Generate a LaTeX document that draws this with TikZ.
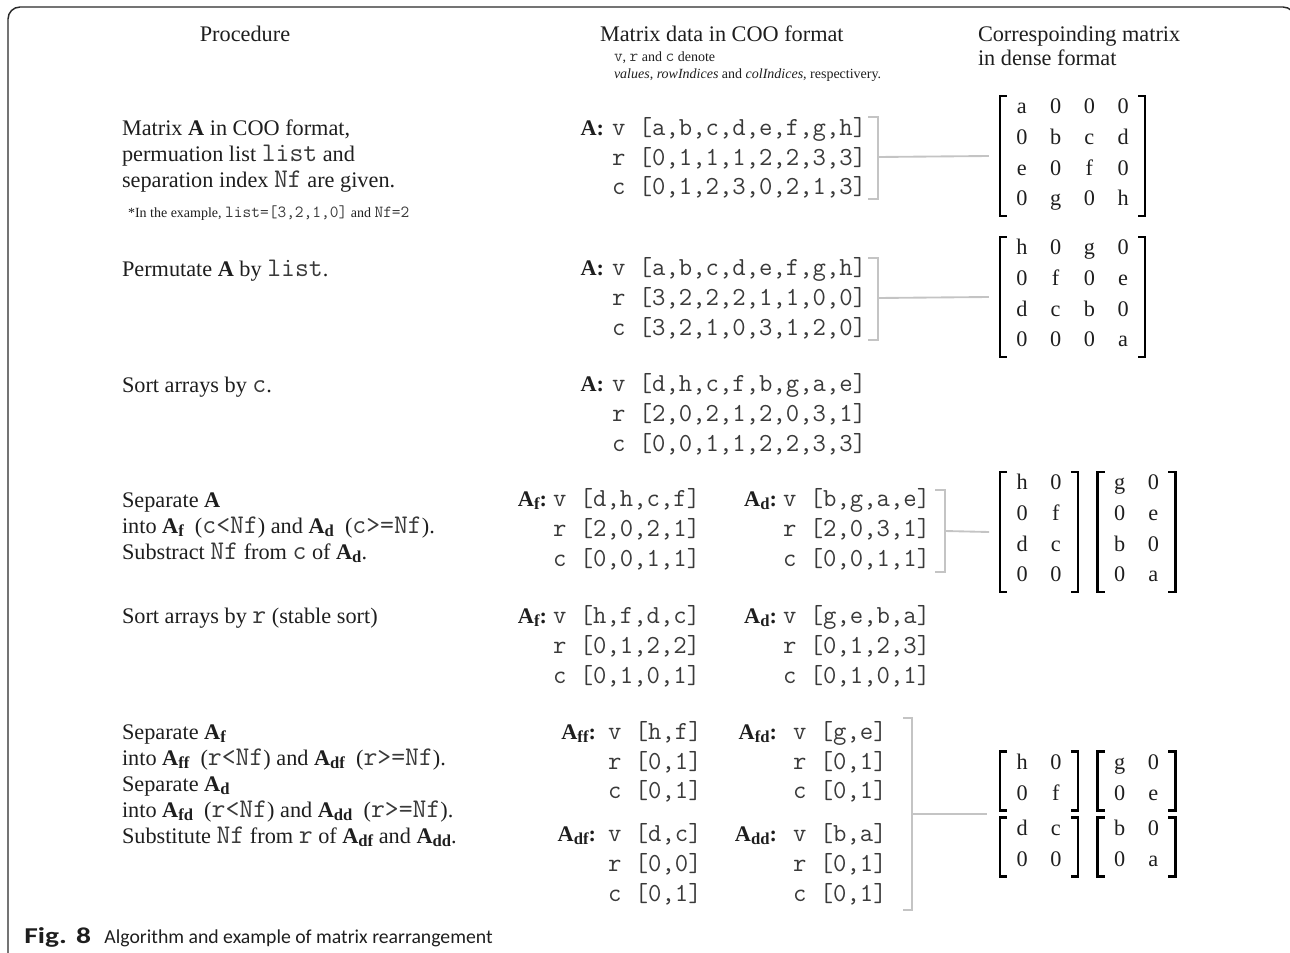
\documentclass[tikz,border=0pt]{standalone}
\usepackage{fontspec}
\setmainfont{Liberation Serif}
\setmonofont{Latin Modern Mono}[Scale=1.21]
\newfontfamily\capfont{Carlito}
\usetikzlibrary{matrix}
\definecolor{ink}{HTML}{1E1E1E}
\definecolor{monoink}{HTML}{3A3A3A}
\definecolor{grayline}{HTML}{C4C4C4}
\definecolor{framecol}{HTML}{2A2A2A}
\newcommand\Am[1]{\textbf{A}\raisebox{-0.35ex}{\fontsize{12.5}{12.5}\selectfont\bfseries #1}}
\newcommand\mt[1]{{\ttfamily\color{monoink}#1}}
\newcommand\mbrackets[1]{%
  \draw[mbr] ([xshift=-0.8pt]#1.north west) -- ([xshift=-6pt]#1.north west) -- ([xshift=-6pt]#1.south west) -- ([xshift=-0.8pt]#1.south west);
  \draw[mbr] ([xshift=0.8pt]#1.north east) -- ([xshift=6pt]#1.north east) -- ([xshift=6pt]#1.south east) -- ([xshift=0.8pt]#1.south east);}
\tikzset{
  ptxt/.style={anchor=base west, inner sep=0, outer sep=0, text=ink, font=\fontsize{16.7}{19.5}\selectfont},
  small/.style={anchor=base west, inner sep=0, outer sep=0, text=ink, font=\fontsize{10.5}{12}\selectfont},
  coo/.style={anchor=base west, inner sep=0, outer sep=0, text=monoink, font=\fontsize{16.1}{19}\selectfont\ttfamily},
  lbl/.style={anchor=base east, inner sep=0, outer sep=0, text=ink, font=\fontsize{16.7}{19.5}\selectfont\bfseries},
  gbr/.style={draw=grayline, line width=1.4pt},
  mbr/.style={draw=black, line width=1.8pt, line join=miter},
  dmat/.style={matrix of nodes, inner sep=0, outer sep=0, column sep=4.3pt, row sep=2pt,
    nodes={anchor=center, minimum width=21pt, minimum height=21pt, inner sep=0, text height=8.5pt, text depth=3pt, text=ink, font=\fontsize{16.7}{19.5}\selectfont}},
}
\begin{document}
\begin{tikzpicture}[x=0.75pt, y=-0.75pt]
\useasboundingbox (0,0) rectangle (1290,953);
\clip (0,0) rectangle (1290,953);
% frame
\draw[framecol, line width=1.1pt, rounded corners=9pt] (8,970) -- (8,7) -- (1295,7) -- (1295,970);
% headers
\node[ptxt, anchor=base] (h1) at (245,41) {Procedure};
\node[ptxt] (h2) at (600,41) {Matrix data in COO format};
\node[small] (h2a) at (614,61) {\mt{v}, \mt{r} and \mt{c} denote};
\node[small] (h2b) at (614,78) {\textit{values}, \textit{rowIndices} and \textit{colIndices}, respectivery.};
\node[ptxt] (h3) at (978,41) {Correspoinding matrix};
\node[ptxt] (h3b) at (978,65) {in dense format};
% row 1
\node[ptxt] (p1a) at (122,135) {Matrix \textbf{A} in COO format,};
\node[ptxt] (p1b) at (122,161) {permuation list \mt{list} and};
\node[ptxt] (p1c) at (122,187) {separation index \mt{Nf} are given.};
\node[small] (p1d) at (128,217) {*In the example, \mt{list=[3,2,1,0]} and \mt{Nf=2}};
\node[lbl] (l1) at (604,135) {A:};
\node[coo] (c1v) at (612,135) {v [a,b,c,d,e,f,g,h]};
\node[coo] (c1r) at (612,165) {r [0,1,1,1,2,2,3,3]};
\node[coo] (c1c) at (612,194) {c [0,1,2,3,0,2,1,3]};
\draw[gbr] (868,117) -- (878,117) -- (878,199) -- (868,199);
\coordinate (k1) at (878,157);
\matrix (M1) [dmat] at (1072.5,156) {a & 0 & 0 & 0\\ 0 & b & c & d\\ e & 0 & f & 0\\ 0 & g & 0 & h\\};
\mbrackets{M1}
\draw[gbr] (k1) -- ([xshift=-14.25pt]M1.west);
% row 2
\node[ptxt] (p2a) at (122,276) {Permutate \textbf{A} by \mt{list}.};
\node[lbl] (l2) at (604,275) {A:};
\node[coo] (c2v) at (612,275) {v [a,b,c,d,e,f,g,h]};
\node[coo] (c2r) at (612,305) {r [3,2,2,2,1,1,0,0]};
\node[coo] (c2c) at (612,335) {c [3,2,1,0,3,1,2,0]};
\draw[gbr] (868,258) -- (878,258) -- (878,340) -- (868,340);
\coordinate (k2) at (878,298);
\matrix (M2) [dmat] at (1072.5,297) {h & 0 & g & 0\\ 0 & f & 0 & e\\ d & c & b & 0\\ 0 & 0 & 0 & a\\};
\mbrackets{M2}
\draw[gbr] (k2) -- ([xshift=-14.25pt]M2.west);
% row 3
\node[ptxt] (p3a) at (122,392) {Sort arrays by \mt{c}.};
\node[lbl] (l3) at (604,391) {A:};
\node[coo] (c3v) at (612,391) {v [d,h,c,f,b,g,a,e]};
\node[coo] (c3r) at (612,421) {r [2,0,2,1,2,0,3,1]};
\node[coo] (c3c) at (612,451) {c [0,0,1,1,2,2,3,3]};
% row 4
\node[ptxt] (p4a) at (122,507) {Separate \textbf{A}};
\node[ptxt] (p4b) at (122,533) {into \Am{f}~ (\mt{c<Nf}) and \Am{d}~ (\mt{c>=Nf}).};
\node[ptxt] (p4c) at (122,559) {Substract \mt{Nf} from \mt{c} of \Am{d}.};
\node[lbl] (l4a) at (547,506) {\Am{f}:};
\node[coo] (c4v) at (553,506) {v [d,h,c,f]};
\node[coo] (c4r) at (553,536) {r [2,0,2,1]};
\node[coo] (c4c) at (553,566) {c [0,0,1,1]};
\node[lbl] (l4b) at (777,506) {\Am{d}:};
\node[coo] (d4v) at (783,506) {v [b,g,a,e]};
\node[coo] (d4r) at (783,536) {r [2,0,3,1]};
\node[coo] (d4c) at (783,566) {c [0,0,1,1]};
\draw[gbr] (935,490) -- (945,490) -- (945,572) -- (935,572);
\coordinate (k4) at (945,531);
\matrix (M4a) [dmat] at (1039,532) {h & 0\\ 0 & f\\ d & c\\ 0 & 0\\};
\matrix (M4b) [dmat] at (1136.5,532) {g & 0\\ 0 & e\\ b & 0\\ 0 & a\\};
\mbrackets{M4a}
\mbrackets{M4b}
\draw[gbr] (k4) -- ([xshift=-14.25pt]M4a.west);
% row 5
\node[ptxt] (p5a) at (122,623) {Sort arrays by \mt{r} (stable sort)};
\node[lbl] (l5a) at (547,623) {\Am{f}:};
\node[coo] (c5v) at (553,623) {v [h,f,d,c]};
\node[coo] (c5r) at (553,653) {r [0,1,2,2]};
\node[coo] (c5c) at (553,683) {c [0,1,0,1]};
\node[lbl] (l5b) at (777,623) {\Am{d}:};
\node[coo] (d5v) at (783,623) {v [g,e,b,a]};
\node[coo] (d5r) at (783,653) {r [0,1,2,3]};
\node[coo] (d5c) at (783,683) {c [0,1,0,1]};
% row 6
\node[ptxt] (p6a) at (122,739) {Separate \Am{f}};
\node[ptxt] (p6b) at (122,765) {into \Am{ff}~ (\mt{r<Nf}) and \Am{df}~ (\mt{r>=Nf}).};
\node[ptxt] (p6c) at (122,791) {Separate \Am{d}};
\node[ptxt] (p6d) at (122,817) {into \Am{fd}~ (\mt{r<Nf}) and \Am{dd}~ (\mt{r>=Nf}).};
\node[ptxt] (p6e) at (122,843) {Substitute \mt{Nf} from \mt{r} of \Am{df} and \Am{dd}.};
\node[lbl] (l6a) at (596,739) {\Am{ff}:};
\node[coo] (c6v) at (608,739) {v [h,f]};
\node[coo] (c6r) at (608,769) {r [0,1]};
\node[coo] (c6c) at (608,798) {c [0,1]};
\node[lbl] (l6b) at (777,739) {\Am{fd}:};
\node[coo] (d6v) at (793,739) {v [g,e]};
\node[coo] (d6r) at (793,769) {r [0,1]};
\node[coo] (d6c) at (793,798) {c [0,1]};
\node[lbl] (l6c) at (596,841) {\Am{df}:};
\node[coo] (e6v) at (608,841) {v [d,c]};
\node[coo] (e6r) at (608,871) {r [0,0]};
\node[coo] (e6c) at (608,901) {c [0,1]};
\node[lbl] (l6d) at (777,841) {\Am{dd}:};
\node[coo] (f6v) at (793,841) {v [b,a]};
\node[coo] (f6r) at (793,871) {r [0,1]};
\node[coo] (f6c) at (793,901) {c [0,1]};
\draw[gbr] (903,718) -- (912,718) -- (912,910) -- (903,910);
\coordinate (k6) at (912,814);
\coordinate (k6e) at (987,814);
\matrix (M6a) [dmat] at (1039,781) {h & 0\\ 0 & f\\};
\matrix (M6b) [dmat] at (1136.5,781) {g & 0\\ 0 & e\\};
\matrix (M6c) [dmat] at (1039,847) {d & c\\ 0 & 0\\};
\matrix (M6d) [dmat] at (1136.5,847) {b & 0\\ 0 & a\\};
\mbrackets{M6a}
\mbrackets{M6b}
\mbrackets{M6c}
\mbrackets{M6d}
\draw[gbr] (k6) -- (k6e);
% caption
\node[anchor=base west, inner sep=0, text=ink, font=\capfont\fontsize{14.8}{18}\selectfont] (cap) at (24,943) {{\fontsize{17}{18}\selectfont\scalebox{1.3}[1]{\textbf{Fig.}}\hspace{7pt}\scalebox{1.3}[1]{\textbf{8}}}\hspace{10pt}Algorithm and example of matrix rearrangement};
\end{tikzpicture}
\end{document}
